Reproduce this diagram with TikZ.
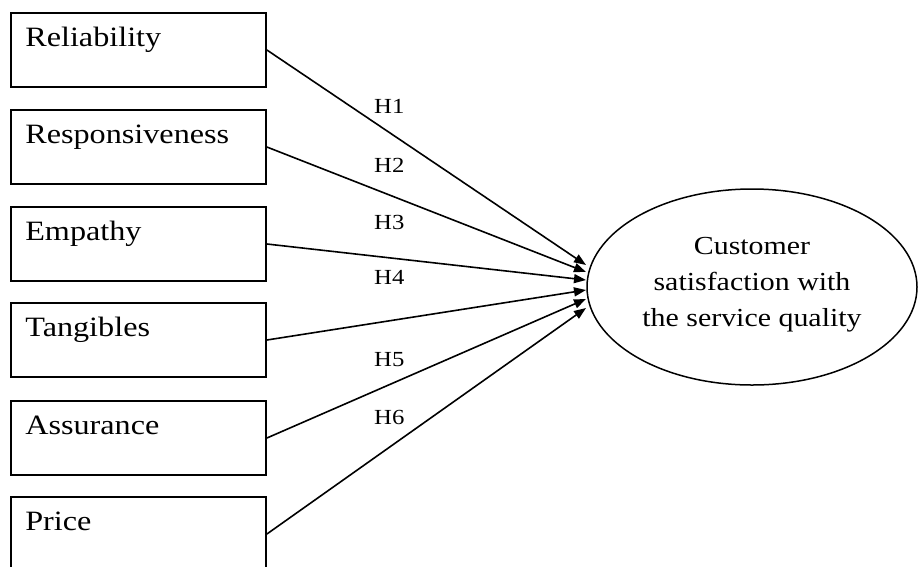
\documentclass[tikz,border=0pt]{standalone}
\usepackage{fontspec}
\setmainfont{Liberation Serif}[FakeStretch=1.15]
\usetikzlibrary{arrows.meta,shapes.geometric}
\begin{document}
\begin{tikzpicture}[x=1pt,y=-1pt,
  factor/.style={draw,line width=1.8pt,minimum width=255pt,minimum height=74pt,inner sep=0pt},
  factorname/.style={anchor=base west,inner sep=0pt,font=\fontsize{28}{32}\selectfont},
  outcome/.style={draw,ellipse,line width=1.5pt,minimum width=330pt,minimum height=196pt,inner sep=0pt},
  outcometext/.style={align=center,inner sep=0pt,font=\fontsize{26}{36}\selectfont},
  path/.style={line width=1.6pt,-{Triangle[length=12pt,width=9pt]}},
  hyp/.style={anchor=west,inner sep=0pt,font=\fontsize{21.5}{24}\selectfont}]
  \clip (0,0) rectangle (918,566);

  % predictor boxes
  \node[factor] (b1) at (138.5,50)  {};
  \node[factor] (b2) at (138.5,147) {};
  \node[factor] (b3) at (138.5,244) {};
  \node[factor] (b4) at (138.5,340) {};
  \node[factor] (b5) at (138.5,438) {};
  \node[factor] (b6) at (138.5,534) {};

  \node[factorname] (t1) at ([xshift=15pt,yshift=-34pt]b1.north west) {Reliability};
  \node[factorname] (t2) at ([xshift=15pt,yshift=-34pt]b2.north west) {Responsiveness};
  \node[factorname] (t3) at ([xshift=15pt,yshift=-34pt]b3.north west) {Empathy};
  \node[factorname] (t4) at ([xshift=15pt,yshift=-34pt]b4.north west) {Tangibles};
  \node[factorname] (t5) at ([xshift=15pt,yshift=-34pt]b5.north west) {Assurance};
  \node[factorname] (t6) at ([xshift=15pt,yshift=-34pt]b6.north west) {Price};

  % dependent construct
  \node[outcome] (cs) at (752,287) {};
  \node[outcometext] (cst) at (752,285)
    {Customer\\satisfaction with\\the service quality};

  % arrow tips next to the ellipse
  \coordinate (e1) at (586,265);
  \coordinate (e2) at (586,272);
  \coordinate (e3) at (586,280);
  \coordinate (e4) at (586,290);
  \coordinate (e5) at (586,299);
  \coordinate (e6) at (586,308);

  \draw[path] (b1.east) -- (e1);
  \draw[path] (b2.east) -- (e2);
  \draw[path] (b3.east) -- (e3);
  \draw[path] (b4.east) -- (e4);
  \draw[path] (b5.east) -- (e5);
  \draw[path] (b6.east) -- (e6);

  % hypothesis labels
  \node[hyp] (h1) at (374,106) {H1};
  \node[hyp] (h2) at (374,165) {H2};
  \node[hyp] (h3) at (374,222) {H3};
  \node[hyp] (h4) at (374,277) {H4};
  \node[hyp] (h5) at (374,360) {H5};
  \node[hyp] (h6) at (374,417) {H6};
\end{tikzpicture}
\end{document}
